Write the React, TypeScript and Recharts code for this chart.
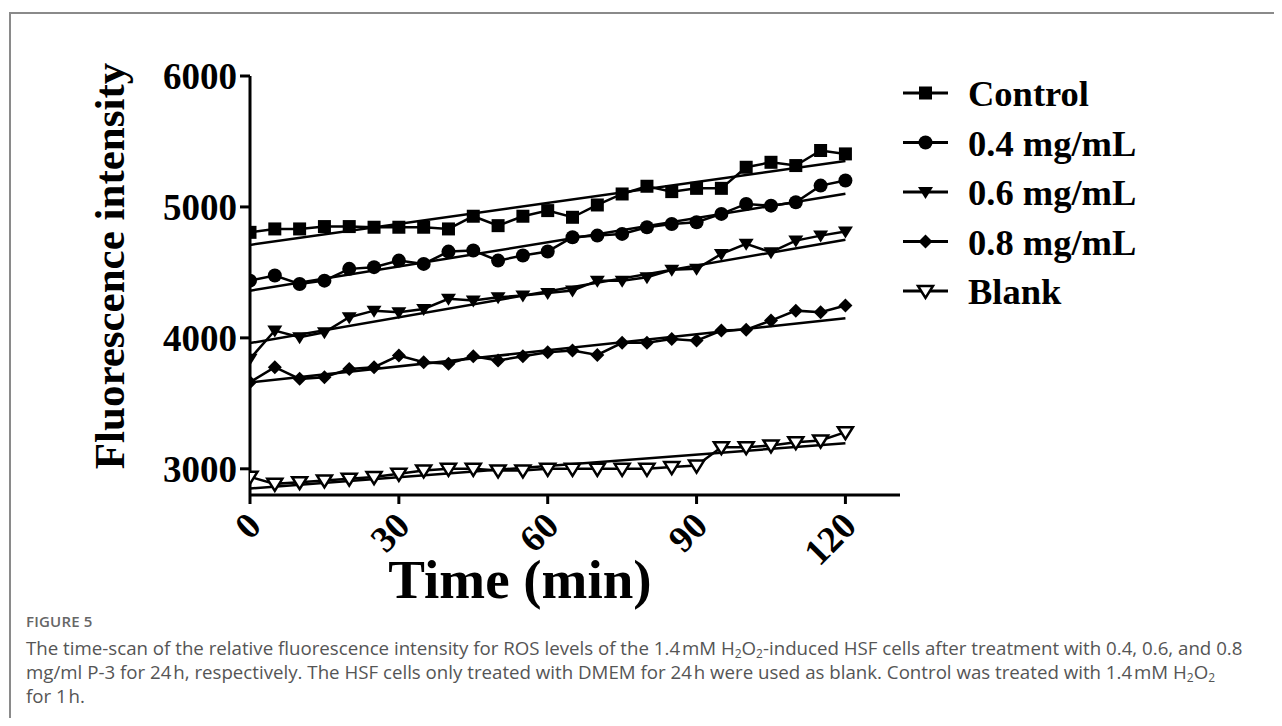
import React from 'react';
import { LineChart, Line, XAxis, YAxis } from 'recharts';

const times = [0, 5, 10, 15, 20, 25, 30, 35, 40, 45, 50, 55, 60, 65, 70, 75, 80, 85, 90, 95, 100, 105, 110, 115, 120];
const controlValues = [4806, 4832, 4832, 4850, 4850, 4845, 4845, 4845, 4832, 4929, 4857, 4929, 4972, 4921, 5015, 5099, 5158, 5117, 5142, 5142, 5303, 5341, 5316, 5431, 5405];
const conc04Values = [4437, 4476, 4412, 4437, 4527, 4540, 4590, 4565, 4659, 4667, 4590, 4629, 4660, 4769, 4781, 4794, 4845, 4870, 4883, 4947, 5023, 5010, 5036, 5163, 5202];
const conc06Values = [3840, 4056, 4005, 4043, 4158, 4208, 4196, 4221, 4298, 4285, 4311, 4323, 4342, 4361, 4437, 4437, 4463, 4520, 4527, 4641, 4718, 4654, 4743, 4781, 4813];
const conc08Values = [3662, 3776, 3687, 3700, 3763, 3776, 3865, 3814, 3802, 3860, 3827, 3860, 3891, 3903, 3870, 3962, 3962, 3992, 3979, 4056, 4063, 4132, 4208, 4196, 4247];
const blankValues = [2939, 2885, 2898, 2911, 2924, 2937, 2962, 2987, 3000, 3000, 2987, 2987, 3000, 3000, 3000, 3000, 3000, 3013, 3025, 3165, 3165, 3178, 3203, 3216, 3280];

const fitTimes = [0, 120];
const controlFit = [4710, 5350];
const conc04Fit = [4360, 5100];
const conc06Fit = [3960, 4750];
const conc08Fit = [3660, 4150];
const blankFit = [2850, 3195];

const seriesNames = ['Control', '0.4 mg/mL', '0.6 mg/mL', '0.8 mg/mL', 'Blank'];
const seriesKeys = ['control', 'c04', 'c06', 'c08', 'blank'];
const markerKinds = ['square', 'circle', 'triDown', 'diamond', 'triOpen'];
const xTicks = [0, 30, 60, 90, 120];
const yTicks = [3000, 4000, 5000, 6000];

const data = times.map((t, i) => ({
  t,
  control: controlValues[i],
  c04: conc04Values[i],
  c06: conc06Values[i],
  c08: conc08Values[i],
  blank: blankValues[i],
}));

const fitSets = [controlFit, conc04Fit, conc06Fit, conc08Fit, blankFit];
const fitData = fitSets.map((f) => fitTimes.map((t, i) => ({ t, v: f[i] })));

const SERIF = '"Liberation Serif", "Times New Roman", serif';

function Marker({ kind, cx, cy }: { kind: string; cx: number; cy: number }) {
  if (kind === 'square') {
    return <rect x={cx - 6.5} y={cy - 6.5} width={13} height={13} fill="#000" />;
  }
  if (kind === 'circle') {
    return <circle cx={cx} cy={cy} r={7} fill="#000" />;
  }
  if (kind === 'triDown') {
    return <path d={`M${cx - 7.5},${cy - 5} L${cx + 7.5},${cy - 5} L${cx},${cy + 7} Z`} fill="#000" />;
  }
  if (kind === 'diamond') {
    return <path d={`M${cx},${cy - 7} L${cx + 7},${cy} L${cx},${cy + 7} L${cx - 7},${cy} Z`} fill="#000" />;
  }
  return (
    <path
      d={`M${cx - 7.5},${cy - 5} L${cx + 7.5},${cy - 5} L${cx},${cy + 7} Z`}
      fill="#fff"
      stroke="#000"
      strokeWidth={2.5}
      strokeLinejoin="miter"
    />
  );
}

const makeDot = (kind: string) => (props: any) => {
  const { cx, cy, index } = props;
  if (cx == null || cy == null) return <g key={`d-${kind}-${index}`} />;
  return (
    <g key={`d-${kind}-${index}`}>
      <Marker kind={kind} cx={cx} cy={cy} />
    </g>
  );
};

const XTick = (props: any) => {
  const { x, y, payload } = props;
  return (
    <text
      x={0}
      y={0}
      transform={`translate(${x + 13},${y + 22}) rotate(-45)`}
      textAnchor="end"
      fontFamily={SERIF}
      fontWeight="bold"
      fontSize={37}
      fill="#000"
    >
      {payload.value}
    </text>
  );
};

const YLabel = () => (
  <text
    x={0}
    y={0}
    transform="translate(124,266) rotate(-90)"
    textAnchor="middle"
    fontFamily={SERIF}
    fontWeight="bold"
    fontSize={43}
    fill="#000"
  >
    Fluorescence intensity
  </text>
);

const XLabel = () => (
  <text x={520} y={598} textAnchor="middle" fontFamily={SERIF} fontWeight="bold" fontSize={55} fill="#000">
    Time (min)
  </text>
);

function LegendBox() {
  const rowY = (i: number) => 93 + i * 49.5;
  return (
    <svg width={1282} height={726} style={{ position: 'absolute', left: 0, top: 0, pointerEvents: 'none' }}>
      {seriesNames.map((name, i) => (
        <g key={name}>
          <line x1={903} x2={948} y1={rowY(i)} y2={rowY(i)} stroke="#000" strokeWidth={3} />
          <Marker kind={markerKinds[i]} cx={925.5} cy={rowY(i)} />
          <text x={968} y={rowY(i) + 13} fontFamily={SERIF} fontWeight="bold" fontSize={36.5} fill="#000">
            {name}
          </text>
        </g>
      ))}
    </svg>
  );
}

const Sub = ({ children }: { children: React.ReactNode }) => (
  <span style={{ fontSize: 12, position: 'relative', top: 3, lineHeight: 0 }}>{children}</span>
);

export default function App() {
  return (
    <div
      style={{
        position: 'relative',
        width: 1282,
        height: 726,
        margin: -8,
        background: '#fff',
        overflow: 'hidden',
      }}
    >
      <div style={{ position: 'absolute', left: 9, top: 12, right: 0, height: 0, borderTop: '2px solid #8a8a8a' }} />
      <div style={{ position: 'absolute', left: 9, top: 12, bottom: 0, width: 0, borderLeft: '2px solid #8a8a8a' }} />
      <div style={{ position: 'absolute', left: 0, top: 0 }}>
        <LineChart
          width={1282}
          height={726}
          data={data}
          margin={{ top: 76, right: 382, bottom: 171, left: 150 }}
        >
          <XAxis
            dataKey="t"
            type="number"
            domain={[0, 131]}
            ticks={xTicks}
            allowDataOverflow
            axisLine={{ stroke: '#000', strokeWidth: 3 }}
            tickLine={{ stroke: '#000', strokeWidth: 3 }}
            tickSize={9}
            tickMargin={2}
            height={60}
            tick={<XTick />}
            label={<XLabel />}
          />
          <YAxis
            type="number"
            domain={[2800, 6000]}
            ticks={yTicks}
            allowDataOverflow
            width={100}
            axisLine={{ stroke: '#000', strokeWidth: 3 }}
            tickLine={{ stroke: '#000', strokeWidth: 3 }}
            tickSize={10}
            tickMargin={3}
            tick={{ fontFamily: SERIF, fontWeight: 'bold', fontSize: 37, fill: '#000' }}
            label={<YLabel />}
          />
          {fitData.map((fd, i) => (
            <Line
              key={`fit-${i}`}
              data={fd}
              dataKey="v"
              stroke="#000"
              strokeWidth={2.5}
              dot={false}
              activeDot={false}
              isAnimationActive={false}
              type="linear"
            />
          ))}
          {seriesKeys.map((k, i) => (
            <Line
              key={k}
              dataKey={k}
              stroke="#000"
              strokeWidth={2.5}
              dot={makeDot(markerKinds[i])}
              activeDot={false}
              isAnimationActive={false}
              type="linear"
            />
          ))}
        </LineChart>
      </div>
      <LegendBox />
      <div
        style={{
          position: 'absolute',
          left: 26,
          top: 611,
          fontFamily: '"Open Sans", sans-serif',
          color: '#666',
          fontSize: 15,
          lineHeight: '20px',
          fontWeight: 600,
          letterSpacing: 0.2,
        }}
      >
        FIGURE 5
      </div>
      <div
        style={{
          position: 'absolute',
          left: 26,
          top: 636,
          fontFamily: '"Open Sans", sans-serif',
          color: '#555',
          fontSize: 18.7,
          lineHeight: '24px',
          whiteSpace: 'nowrap',
        }}
      >
        The time-scan of the relative fluorescence intensity for ROS levels of the 1.4&#8202;mM H<Sub>2</Sub>O<Sub>2</Sub>-induced HSF cells after treatment with 0.4, 0.6, and 0.8
        <br />
        mg/ml P-3 for 24&#8202;h, respectively. The HSF cells only treated with DMEM for 24&#8202;h were used as blank. Control was treated with 1.4&#8202;mM H<Sub>2</Sub>O<Sub>2</Sub>
        <br />
        for 1&#8202;h.
      </div>
    </div>
  );
}
